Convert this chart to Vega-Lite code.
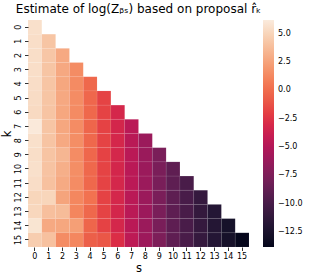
{
  "$schema": "https://vega.github.io/schema/vega-lite/v6.json",
  "width": 221,
  "height": 227,
  "autosize": {"type": "none"},
  "padding": {"left": 28, "top": 20, "right": 61, "bottom": 29},
  "background": "white",
  "title": {"text": "Estimate of log(Zᵦₛ) based on proposal r̂ₖ", "font": "DejaVu Sans", "fontSize": 12, "fontWeight": "normal", "color": "black", "offset": 4, "anchor": "middle"},
  "config": {
    "view": {"stroke": null},
    "axis": {"domain": false, "grid": false, "tickSize": 3.5, "tickWidth": 0.8, "tickColor": "black", "labelFont": "DejaVu Sans", "labelFontSize": 8, "labelColor": "black", "titleFont": "DejaVu Sans", "titleFontSize": 11.5, "titleFontWeight": "normal", "titleColor": "black", "labelPadding": 2},
    "legend": {"labelFont": "DejaVu Sans", "labelFontSize": 8, "labelColor": "black"}
  },
  "data": {"values": [
    {"k":0,"s":0,"v":5.6},
    {"k":1,"s":0,"v":5.5},{"k":1,"s":1,"v":4.2},
    {"k":2,"s":0,"v":5.5},{"k":2,"s":1,"v":4.25},{"k":2,"s":2,"v":2.8},
    {"k":3,"s":0,"v":5.5},{"k":3,"s":1,"v":4.2},{"k":3,"s":2,"v":2.75},{"k":3,"s":3,"v":1.45},
    {"k":4,"s":0,"v":5.45},{"k":4,"s":1,"v":4.2},{"k":4,"s":2,"v":2.7},{"k":4,"s":3,"v":1.4},{"k":4,"s":4,"v":-0.2},
    {"k":5,"s":0,"v":5.4},{"k":5,"s":1,"v":4.2},{"k":5,"s":2,"v":2.75},{"k":5,"s":3,"v":1.45},{"k":5,"s":4,"v":-0.25},{"k":5,"s":5,"v":-1.8},
    {"k":6,"s":0,"v":5.3},{"k":6,"s":1,"v":4.15},{"k":6,"s":2,"v":2.7},{"k":6,"s":3,"v":1.4},{"k":6,"s":4,"v":-0.2},{"k":6,"s":5,"v":-1.8},{"k":6,"s":6,"v":-3.2},
    {"k":7,"s":0,"v":6.1},{"k":7,"s":1,"v":4.2},{"k":7,"s":2,"v":2.7},{"k":7,"s":3,"v":1.45},{"k":7,"s":4,"v":-0.3},{"k":7,"s":5,"v":-1.85},{"k":7,"s":6,"v":-3.25},{"k":7,"s":7,"v":-4.6},
    {"k":8,"s":0,"v":5.6},{"k":8,"s":1,"v":4.15},{"k":8,"s":2,"v":2.8},{"k":8,"s":3,"v":1.5},{"k":8,"s":4,"v":-0.2},{"k":8,"s":5,"v":-1.8},{"k":8,"s":6,"v":-3.2},{"k":8,"s":7,"v":-4.65},{"k":8,"s":8,"v":-6.1},
    {"k":9,"s":0,"v":5.5},{"k":9,"s":1,"v":4.15},{"k":9,"s":2,"v":3.45},{"k":9,"s":3,"v":1.45},{"k":9,"s":4,"v":-0.25},{"k":9,"s":5,"v":-1.85},{"k":9,"s":6,"v":-3.2},{"k":9,"s":7,"v":-4.6},{"k":9,"s":8,"v":-6.15},{"k":9,"s":9,"v":-7.6},
    {"k":10,"s":0,"v":5.6},{"k":10,"s":1,"v":4.1},{"k":10,"s":2,"v":3.1},{"k":10,"s":3,"v":1.5},{"k":10,"s":4,"v":-0.2},{"k":10,"s":5,"v":-1.8},{"k":10,"s":6,"v":-3.25},{"k":10,"s":7,"v":-4.6},{"k":10,"s":8,"v":-6.1},{"k":10,"s":9,"v":-7.6},{"k":10,"s":10,"v":-8.85},
    {"k":11,"s":0,"v":5.45},{"k":11,"s":1,"v":4.0},{"k":11,"s":2,"v":2.85},{"k":11,"s":3,"v":1.45},{"k":11,"s":4,"v":-0.2},{"k":11,"s":5,"v":-1.8},{"k":11,"s":6,"v":-3.2},{"k":11,"s":7,"v":-4.55},{"k":11,"s":8,"v":-6.1},{"k":11,"s":9,"v":-7.65},{"k":11,"s":10,"v":-8.9},{"k":11,"s":11,"v":-9.9},
    {"k":12,"s":0,"v":5.05},{"k":12,"s":1,"v":5.05},{"k":12,"s":2,"v":2.55},{"k":12,"s":3,"v":1.2},{"k":12,"s":4,"v":0.3},{"k":12,"s":5,"v":-1.85},{"k":12,"s":6,"v":-3.2},{"k":12,"s":7,"v":-4.6},{"k":12,"s":8,"v":-6.1},{"k":12,"s":9,"v":-7.6},{"k":12,"s":10,"v":-8.9},{"k":12,"s":11,"v":-9.95},{"k":12,"s":12,"v":-10.95},
    {"k":13,"s":0,"v":5.1},{"k":13,"s":1,"v":3.9},{"k":13,"s":2,"v":3.75},{"k":13,"s":3,"v":1.15},{"k":13,"s":4,"v":-0.2},{"k":13,"s":5,"v":-1.8},{"k":13,"s":6,"v":-3.25},{"k":13,"s":7,"v":-4.6},{"k":13,"s":8,"v":-6.05},{"k":13,"s":9,"v":-7.6},{"k":13,"s":10,"v":-8.9},{"k":13,"s":11,"v":-9.9},{"k":13,"s":12,"v":-11.0},{"k":13,"s":13,"v":-11.8},
    {"k":14,"s":0,"v":5.85},{"k":14,"s":1,"v":2.8},{"k":14,"s":2,"v":2.7},{"k":14,"s":3,"v":2.3},{"k":14,"s":4,"v":-0.3},{"k":14,"s":5,"v":-1.85},{"k":14,"s":6,"v":-3.2},{"k":14,"s":7,"v":-4.6},{"k":14,"s":8,"v":-6.1},{"k":14,"s":9,"v":-7.65},{"k":14,"s":10,"v":-8.9},{"k":14,"s":11,"v":-9.9},{"k":14,"s":12,"v":-10.95},{"k":14,"s":13,"v":-11.85},{"k":14,"s":14,"v":-12.65},
    {"k":15,"s":0,"v":4.6},{"k":15,"s":1,"v":4.0},{"k":15,"s":2,"v":1.45},{"k":15,"s":3,"v":1.2},{"k":15,"s":4,"v":-0.65},{"k":15,"s":5,"v":-1.0},{"k":15,"s":6,"v":-2.75},{"k":15,"s":7,"v":-4.45},{"k":15,"s":8,"v":-6.0},{"k":15,"s":9,"v":-7.5},{"k":15,"s":10,"v":-8.85},{"k":15,"s":11,"v":-9.9},{"k":15,"s":12,"v":-10.95},{"k":15,"s":13,"v":-11.8},{"k":15,"s":14,"v":-12.7},{"k":15,"s":15,"v":-13.7}
  ]},
  "mark": {"type": "rect", "stroke": "white", "strokeWidth": 0.5, "strokeOpacity": 0.12},
  "encoding": {
    "x": {"field": "s", "type": "ordinal", "scale": {"domain": [0,1,2,3,4,5,6,7,8,9,10,11,12,13,14,15], "paddingInner": 0, "paddingOuter": 0},
          "axis": {"title": "s", "labelAngle": 0, "titlePadding": 2}},
    "y": {"field": "k", "type": "ordinal", "scale": {"domain": [0,1,2,3,4,5,6,7,8,9,10,11,12,13,14,15], "paddingInner": 0, "paddingOuter": 0},
          "axis": {"title": "k", "labelAngle": 270, "titleX": -18, "titleBaseline": "alphabetic"}},
    "color": {"field": "v", "type": "quantitative",
              "scale": {"type": "linear", "domain": [-13.8, 6.2], "range": ["#03051A", "#35193E", "#701F57", "#AD1759", "#E13342", "#F37651", "#F6B48F", "#FAEBDD"]},
              "legend": {"title": null, "direction": "vertical", "gradientLength": 227, "gradientThickness": 11, "offset": 14, "padding": 0, "labelOffset": 4, "values": [5, 2.5, 0, -2.5, -5, -7.5, -10, -12.5], "format": ".1f", "labelOverlap": false, "gradientStrokeWidth": 0}}
  }
}
